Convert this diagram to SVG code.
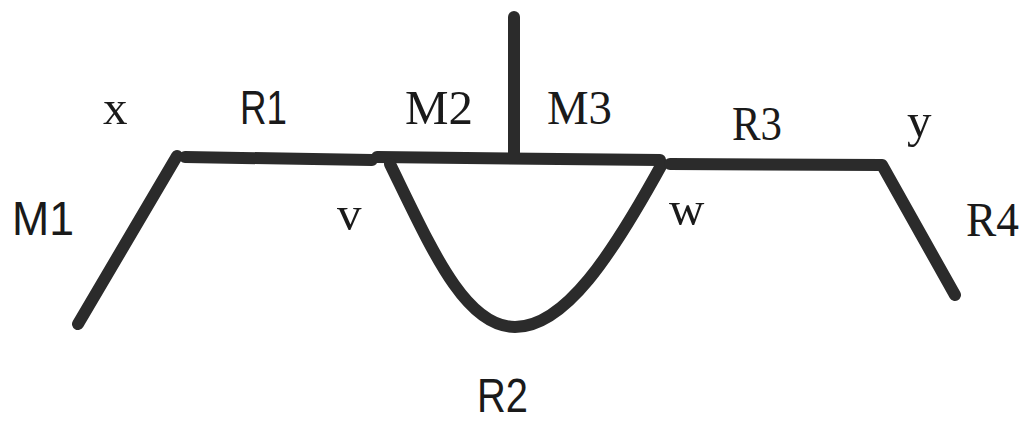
<svg xmlns="http://www.w3.org/2000/svg" width="1022" height="423" viewBox="0 0 1022 423">
<style>
.ln{fill:none;stroke:#2b2b2b;stroke-width:12;stroke-linecap:round;stroke-linejoin:round}
.sf{font-family:"Liberation Serif","Times New Roman",serif;font-size:49px;fill:#1a1a1a}
.ss{font-family:"Liberation Sans",Arial,sans-serif;font-size:49px;fill:#1a1a1a}
</style>
<rect width="1022" height="423" fill="#ffffff"/>
<g id="connectors">
<path id="M1" class="ln" d="M78,324 L177,156"/>
<path id="R1" class="ln" d="M185,157 L372,160"/>
<path id="M2M3" class="ln" d="M377,157 L660,160"/>
<path id="stem" class="ln" d="M514,17 L514,157"/>
<path id="R2" class="ln" d="M390,164 C432,250 465,327 515,327 C565,327 612,255 662,164"/>
<path id="R3" class="ln" d="M670,164 L882,165 L955,295"/>
</g>
<g id="labels">
<text id="t-x" class="sf" x="103" y="124">x</text>
<text id="t-R1" class="ss" x="240" y="124" textLength="47" lengthAdjust="spacingAndGlyphs">R1</text>
<text id="t-M2" class="sf" x="405" y="124" textLength="68" lengthAdjust="spacingAndGlyphs">M2</text>
<text id="t-M3" class="sf" x="547" y="124" textLength="65" lengthAdjust="spacingAndGlyphs">M3</text>
<text id="t-R3" class="sf" x="732" y="140" textLength="50" lengthAdjust="spacingAndGlyphs">R3</text>
<text id="t-y" class="sf" x="907" y="137">y</text>
<text id="t-M1" class="ss" x="12" y="235" textLength="62" lengthAdjust="spacingAndGlyphs">M1</text>
<text id="t-v" class="sf" x="337" y="230">v</text>
<text id="t-w" class="sf" x="669" y="225">w</text>
<text id="t-R4" class="sf" x="966" y="236" textLength="53" lengthAdjust="spacingAndGlyphs">R4</text>
<text id="t-R2" class="ss" x="477" y="412" textLength="51" lengthAdjust="spacingAndGlyphs">R2</text>
</g>
</svg>
